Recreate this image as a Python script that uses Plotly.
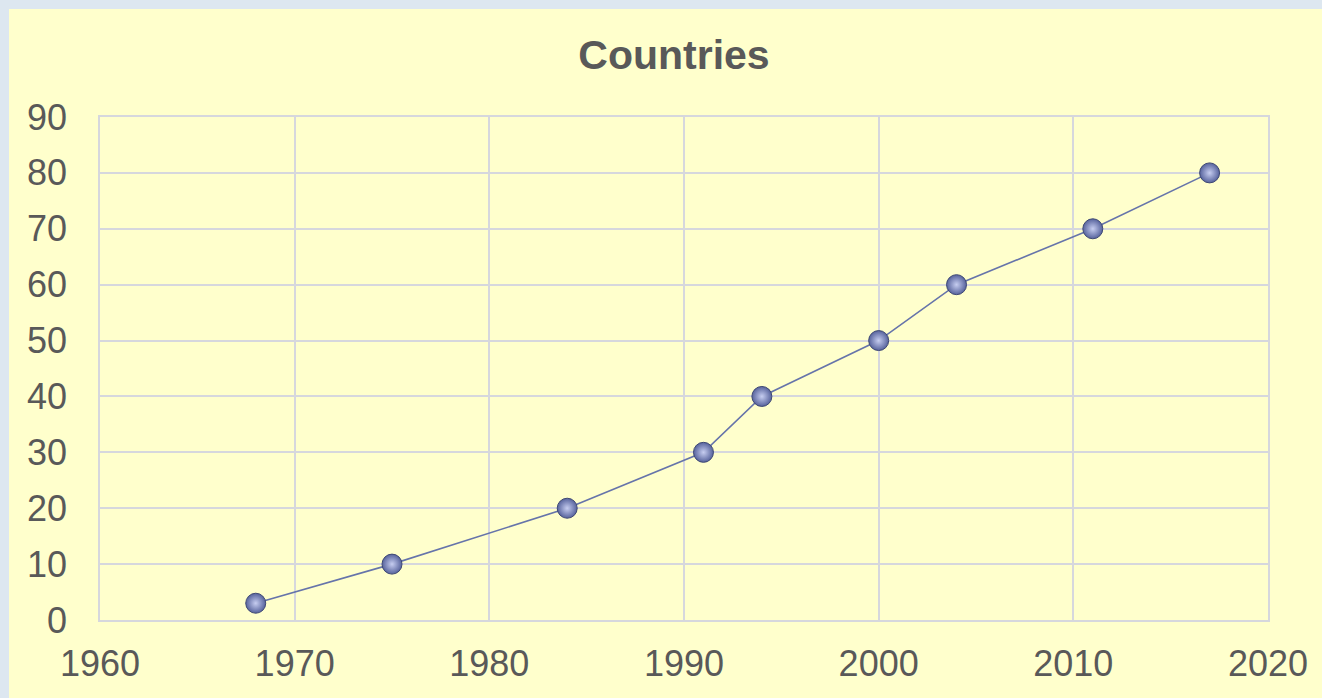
import plotly.graph_objects as go

years = [1968, 1975, 1984, 1991, 1994, 2000, 2004, 2011, 2017]
countries = [3, 10, 20, 30, 40, 50, 60, 70, 80]
title_text = "Countries"

W, H = 1322, 698
L, R, T, B = 100, 54, 117, 78
pw, ph = W - L - R, H - T - B

def fx(px):
    return (px - L) / pw

def fy(py):
    return (H - B - py) / ph

FONT = "Liberation Sans, Arial, sans-serif"

fig = go.Figure()
fig.add_trace(go.Scatter(
    x=years, y=countries, mode="lines+markers",
    line=dict(color="#6674AA", width=1.6),
    marker=dict(size=20, color="#56629C",
                gradient=dict(type="radial", color="#C6CDF0"),
                line=dict(color="#3E4874", width=1)),
    hoverinfo="x+y", showlegend=False,
))

fig.add_shape(type="rect", xref="paper", yref="paper",
              x0=fx(9), x1=fx(W + 5),
              y0=fy(H + 5), y1=fy(9),
              fillcolor="#FFFFCC", line=dict(width=0), layer="below")

axis_common = dict(
    showgrid=True, gridcolor="#D6D7DD", gridwidth=1.5,
    showline=True, linecolor="#D6D7DD", linewidth=1.5, mirror=True,
    zeroline=False, ticks="",
    tickfont=dict(family=FONT, size=36, color="#595959"),
)

fig.update_layout(
    width=W, height=H,
    margin=dict(l=L, r=R, t=T, b=B, autoexpand=False),
    paper_bgcolor="#DDE7F0",
    plot_bgcolor="rgba(0,0,0,0)",
    title=dict(text="<b>" + title_text + "</b>", x=674 / W, xanchor="center",
               y=1 - 55 / H, yanchor="middle",
               font=dict(family=FONT, size=41, color="#595959")),
    xaxis=dict(range=[1960, 2020], tickmode="linear", tick0=1960, dtick=10,
               ticklabelstandoff=11, **axis_common),
    yaxis=dict(range=[0, 90], tickmode="linear", tick0=0, dtick=10,
               ticklabelstandoff=24, **axis_common),
)

fig.write_html("out.html",
               config={"displayModeBar": False},
               post_script="document.body.style.margin='0';"
                           "document.body.style.overflow='hidden';"
                           "document.body.style.backgroundColor='#DDE7F0';")
